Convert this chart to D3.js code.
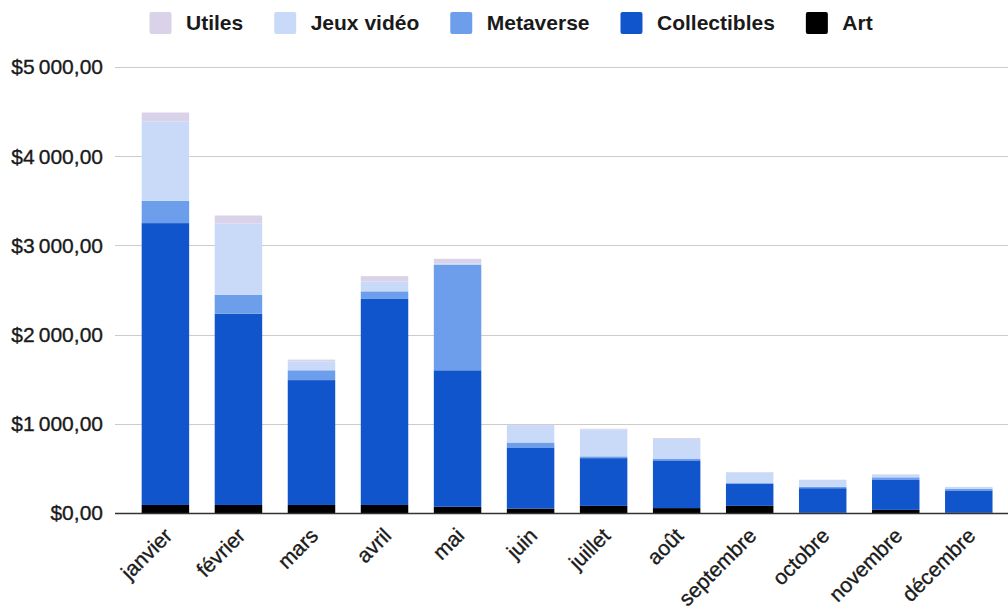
<!DOCTYPE html>
<html>
<head>
<meta charset="utf-8">
<script src="https://cdn.jsdelivr.net/npm/d3@7"></script>
<style>
  html, body { margin: 0; padding: 0; background: #fff; }
  svg { display: block; }
  text { font-family: "Liberation Sans", Arial, Helvetica, sans-serif; fill: #1a1a1a; }
  .lbl { stroke: #1a1a1a; stroke-width: 0.35px; }
</style>
</head>
<body>
<svg id="chart" width="1008" height="614"></svg>
<script>
const months = ["janvier","février","mars","avril","mai","juin","juillet","août","septembre","octobre","novembre","décembre"];
const seriesNames = ["Art","Collectibles","Metaverse","Jeux vidéo","Utiles"];
const art          = [90, 90, 90, 90, 70, 50, 80, 55, 80, 3, 35, 3];
const collectibles = [3160, 2145, 1400, 2310, 1530, 685, 535, 535, 245, 275, 335, 250];
const metaverse    = [250, 210, 110, 85, 1185, 55, 20, 20, 10, 15, 30, 20];
const jeuxVideo    = [890, 800, 100, 110, 10, 195, 300, 220, 120, 80, 30, 20];
const utiles       = [100, 90, 20, 60, 55, 5, 10, 10, 5, 0, 5, 0];
const yTicks = [0, 1000, 2000, 3000, 4000, 5000];
const colors = {"Art":"#000000","Collectibles":"#1155cc","Metaverse":"#6d9eeb","Jeux vidéo":"#c9daf8","Utiles":"#d9d2e9"};

const valuesBySeries = {"Art":art,"Collectibles":collectibles,"Metaverse":metaverse,"Jeux vidéo":jeuxVideo,"Utiles":utiles};
const table = months.map((m,i) => {
  const row = {month: m};
  seriesNames.forEach(s => row[s] = valuesBySeries[s][i]);
  return row;
});

const svg = d3.select("#chart");
const plotLeft = 115, plotRight = 1008;
const y = d3.scaleLinear().domain([0, 5000]).range([513, 67]);
const x = d3.scaleBand().domain(months).range([128.9, 1005.3]).paddingInner(0.35).paddingOuter(0.175);

const fmt = v => "$" + d3.format(",")(v).replace(/,/g, "\u202F") + ",00";

// gridlines
svg.append("g").selectAll("line").data(yTicks.filter(t => t !== 0)).join("line")
  .attr("x1", plotLeft).attr("x2", plotRight)
  .attr("y1", d => Math.round(y(d)) + 0.5).attr("y2", d => Math.round(y(d)) + 0.5)
  .attr("stroke", "#cccccc").attr("stroke-width", 1);

// y labels
svg.append("g").selectAll("text").data(yTicks).join("text")
  .attr("class", "lbl")
  .attr("x", 103).attr("y", d => y(d))
  .attr("dy", "0.35em")
  .attr("text-anchor", "end")
  .style("font-size", "21px")
  .text(fmt);

// stacked bars
const stack = d3.stack().keys(seriesNames)(table);
svg.append("g").selectAll("g").data(stack).join("g")
  .attr("fill", d => colors[d.key])
  .selectAll("rect").data(d => d).join("rect")
  .attr("x", d => x(d.data.month))
  .attr("width", x.bandwidth())
  .attr("y", d => y(d[1]))
  .attr("height", d => Math.max(0, y(d[0]) - y(d[1])));

// baseline
svg.append("line")
  .attr("x1", plotLeft).attr("x2", plotRight)
  .attr("y1", Math.round(y(0)) + 0.5).attr("y2", Math.round(y(0)) + 0.5)
  .attr("stroke", "#333333").attr("stroke-width", 1.3);

// x labels
svg.append("g").selectAll("text").data(months).join("text")
  .attr("class", "lbl")
  .attr("transform", d => `translate(${x(d) + x.bandwidth()/2 + 8},${537}) rotate(-45)`)
  .attr("text-anchor", "end")
  .style("font-size", "21px")
  .text(d => d);

// legend
const legendOrder = ["Utiles","Jeux vidéo","Metaverse","Collectibles","Art"];
let lx = 149.5;
const lg = svg.append("g");
legendOrder.forEach(name => {
  lg.append("rect").attr("x", lx).attr("y", 12).attr("width", 22).attr("height", 22)
    .attr("rx", 2).attr("fill", colors[name]);
  const t = lg.append("text").attr("x", lx + 22 + 14.5).attr("y", 23).attr("dy", "0.35em")
    .style("font-size", "21px").style("font-weight", "bold").text(name);
  lx = lx + 22 + 14.5 + t.node().getComputedTextLength() + 31;
});
</script>
</body>
</html>
